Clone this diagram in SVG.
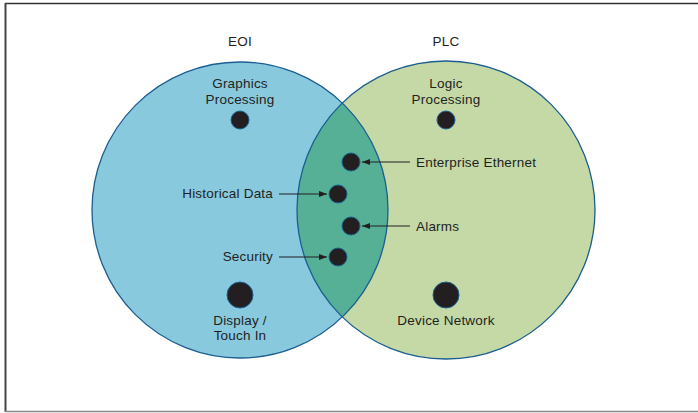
<svg xmlns="http://www.w3.org/2000/svg" width="698" height="413" viewBox="0 0 698 413">
<defs>
<style>
text{font-family:"Liberation Sans",Arial,sans-serif;font-size:13.5px;letter-spacing:0.2px;fill:#231f20}
.mid{text-anchor:middle}
.end{text-anchor:end}
.dot{fill:#231f20;stroke:#1b5e8f;stroke-width:1}
.ring{fill:none;stroke:#1b5e8f;stroke-width:1.3}
.conn{stroke:#231f20;stroke-width:1;fill:none;marker-end:url(#ah)}
</style>
<marker id="ah" viewBox="0 0 8 6" refX="8" refY="3" markerWidth="8" markerHeight="6" markerUnits="userSpaceOnUse" orient="auto">
<path d="M0,0 L8,3 L0,6 Z" fill="#231f20"/>
</marker>
</defs>
<rect width="698" height="413" fill="#fff"/>
<line x1="5" y1="3.5" x2="698" y2="3.5" stroke="#333" stroke-width="1.5"/>
<line x1="5.5" y1="3" x2="5.5" y2="412" stroke="#444" stroke-width="2"/>
<line x1="5" y1="411.5" x2="698" y2="411.5" stroke="#888" stroke-width="1.5"/>

<g id="sets">
<circle cx="240" cy="210" r="148" fill="#88c9de"/>
<circle cx="446" cy="210" r="149" fill="#c5d9a7"/>
<path d="M342.3,103 A148,148 0 0 1 342.3,317 A149,149 0 0 1 342.3,103 Z" fill="#56b095"/>
<circle class="ring" cx="240" cy="210" r="148"/>
<circle class="ring" cx="446" cy="210" r="149"/>
<text class="mid" x="240" y="46">EOI</text>
<text class="mid" x="446" y="46">PLC</text>
</g>

<g id="connectors">
<line class="conn" x1="410" y1="162" x2="362" y2="162"/>
<line class="conn" x1="410" y1="226" x2="362" y2="226"/>
<line class="conn" x1="279" y1="194" x2="327" y2="194"/>
<line class="conn" x1="279" y1="257" x2="327" y2="257"/>
</g>

<g id="graphics-processing">
<circle class="dot" cx="240" cy="120" r="9"/>
<text class="mid" x="240" y="88">Graphics</text>
<text class="mid" x="240" y="104">Processing</text>
</g>
<g id="logic-processing">
<circle class="dot" cx="446" cy="120" r="9"/>
<text class="mid" x="446" y="88">Logic</text>
<text class="mid" x="446" y="104">Processing</text>
</g>
<g id="enterprise-ethernet">
<circle class="dot" cx="351" cy="162" r="9"/>
<text x="416" y="167">Enterprise Ethernet</text>
</g>
<g id="historical-data">
<circle class="dot" cx="338" cy="194" r="9"/>
<text class="end" x="273" y="198">Historical Data</text>
</g>
<g id="alarms">
<circle class="dot" cx="351" cy="226" r="9"/>
<text x="416" y="231">Alarms</text>
</g>
<g id="security">
<circle class="dot" cx="338" cy="257" r="9"/>
<text class="end" x="273" y="261">Security</text>
</g>
<g id="display-touch">
<circle class="dot" cx="240" cy="295" r="13"/>
<text class="mid" x="240" y="325">Display /</text>
<text class="mid" x="240" y="340">Touch In</text>
</g>
<g id="device-network">
<circle class="dot" cx="446" cy="295" r="13"/>
<text class="mid" x="446" y="325">Device Network</text>
</g>
</svg>
